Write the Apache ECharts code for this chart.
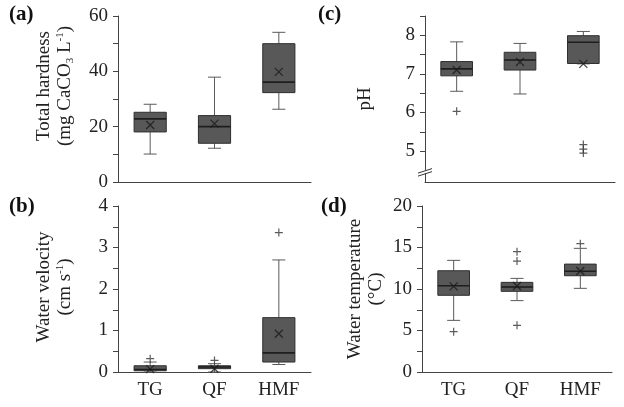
<!DOCTYPE html>
<html><head><meta charset="utf-8">
<script src="https://cdn.jsdelivr.net/npm/echarts@6/dist/echarts.min.js"></script>
<style>html,body{margin:0;padding:0;background:#fff}#c{width:624px;height:407px}</style>
</head><body><div id="c"></div>
<script>
const categories = ['TG', 'QF', 'HMF'];

// [min, Q1, median, Q3, max]
const hardnessBox = [[10.1, 18.1, 22.8, 25.2, 28.1], [12.2, 14.0, 20.0, 24.0, 37.9], [26.3, 32.3, 36.1, 50.0, 54.1]];
const hardnessMean = [20.6, 21.1, 39.8];
const hardnessOutliers = [];
const hardnessTicks = [0, 10, 20, 30, 40, 50, 60];
const hardnessLabels = [0, 20, 40, 60];

const velocityBox = [[0.0, 0.03, 0.06, 0.15, 0.24], [0.0, 0.08, 0.12, 0.15, 0.2], [0.18, 0.24, 0.46, 1.31, 2.7]];
const velocityMean = [0.07, 0.08, 0.92];
const velocityOutliers = [[0, 0.32], [1, 0.28], [2, 3.36]];
const velocityTicks = [0, 0.5, 1, 1.5, 2, 2.5, 3, 3.5, 4];
const velocityLabels = [0, 1, 2, 3, 4];

const phBox = [[6.55, 6.95, 7.13, 7.32, 7.83], [6.48, 7.1, 7.36, 7.56, 7.79], [7.26, 7.27, 7.82, 7.99, 8.1]];
const phMean = [7.1, 7.31, 7.26];
const phOutliers = [[0, 6.03], [2, 5.17], [2, 5.05], [2, 4.95]];
const phTicks = [5, 5.5, 6, 6.5, 7, 7.5, 8, 8.5];
const phLabels = [5, 6, 7, 8];

const tempBox = [[6.22, 9.24, 10.4, 12.2, 13.45], [8.6, 9.72, 10.24, 10.8, 11.28], [10.08, 11.6, 12.13, 13.0, 14.9]];
const tempMean = [10.32, 10.36, 12.17];
const tempOutliers = [[0, 4.86], [1, 14.5], [1, 13.37], [1, 5.62], [2, 15.46]];
const tempTicks = [0, 2.5, 5, 7.5, 10, 12.5, 15, 17.5, 20];
const tempLabels = [0, 5, 10, 15, 20];

const FONT = '"Liberation Serif", "Times New Roman", serif';
const BOX_FILL = '#585858', BOX_EDGE = '#2f2f2f', WHISK = '#5a5a5a';

const panels = [
  {grid: {left: 118, top: 16, width: 193, height: 166}, min: 0, max: 60, ticks: hardnessTicks, labels: hardnessLabels,
   box: hardnessBox, mean: hardnessMean, out: hardnessOutliers, xlab: false,
   name: '{t|Total hardness}\n{t|(mg CaCO}{sub|3}{t| L}{sup|-1}{t|)}', gap: 42, pad: [0, 0, 0, 26]},
  {grid: {left: 118, top: 206, width: 193, height: 166}, min: 0, max: 4, ticks: velocityTicks, labels: velocityLabels,
   box: velocityBox, mean: velocityMean, out: velocityOutliers, xlab: true,
   name: '{t|Water velocity}\n{t|(cm s}{sup|-1}{t|)}', gap: 42, pad: [0, 0, 0, 4]},
  {grid: {left: 425, top: 16, width: 190, height: 166}, min: 4.2, max: 8.5, ticks: phTicks, labels: phLabels,
   box: phBox, mean: phMean, out: phOutliers, xlab: false,
   name: '{t|pH}', gap: 49, pad: [0, 0, 0, 0]},
  {grid: {left: 422, top: 206, width: 190, height: 166}, min: 0, max: 20, ticks: tempTicks, labels: tempLabels,
   box: tempBox, mean: tempMean, out: tempOutliers, xlab: true,
   name: '{t|Water temperature}\n{t|(°C)}', gap: 35, pad: [0, 0, 0, 0]}
];

const grids = [], xAxes = [], yAxes = [], series = [];
panels.forEach((p, k) => {
  grids.push(p.grid);
  xAxes.push({
    type: 'category', gridIndex: k, data: categories, boundaryGap: true,
    axisLine: {lineStyle: {color: '#444', width: 1}},
    axisTick: {alignWithLabel: true, length: 4, lineStyle: {color: '#444'}},
    axisLabel: {show: p.xlab, fontFamily: FONT, fontSize: 19, color: '#222', margin: 9},
    splitLine: {show: false}
  });
  yAxes.push({
    type: 'value', gridIndex: k, min: p.min, max: p.max,
    axisLine: {show: true, lineStyle: {color: '#444', width: 1}},
    axisTick: {show: true, length: 5, customValues: p.ticks, lineStyle: {color: '#444'}},
    axisLabel: {customValues: p.labels, fontFamily: FONT, fontSize: 19, color: '#222', margin: 10},
    splitLine: {show: false},
    name: p.name, nameLocation: 'middle', nameRotate: 90, nameGap: p.gap,
    nameTextStyle: {
      fontFamily: FONT, fontSize: 19, color: '#222', lineHeight: 21, padding: p.pad,
      rich: {
        t: {fontFamily: FONT, fontSize: 19, color: '#222', lineHeight: 21},
        sub: {fontFamily: FONT, fontSize: 11, color: '#222', verticalAlign: 'bottom', lineHeight: 21},
        sup: {fontFamily: FONT, fontSize: 11, color: '#222', verticalAlign: 'top', lineHeight: 21}
      }
    }
  });
  series.push({
    type: 'custom', xAxisIndex: k, yAxisIndex: k,
    data: p.box.map((b, i) => [i].concat(b)),
    renderItem: function (params, api) {
      const i = api.value(0);
      const v = [1, 2, 3, 4, 5].map(j => api.value(j));
      const band = api.size([1, 0])[0];
      const hw = band * 0.25, cw = 6.5;
      const pt = v.map(val => api.coord([i, val]));
      const x = pt[0][0];
      const lw = {stroke: WHISK, lineWidth: 1};
      return {type: 'group', children: [
        {type: 'line', shape: {x1: x, y1: pt[0][1], x2: x, y2: pt[1][1]}, style: lw},
        {type: 'line', shape: {x1: x, y1: pt[3][1], x2: x, y2: pt[4][1]}, style: lw},
        {type: 'line', shape: {x1: x - cw, y1: pt[0][1], x2: x + cw, y2: pt[0][1]}, style: lw},
        {type: 'line', shape: {x1: x - cw, y1: pt[4][1], x2: x + cw, y2: pt[4][1]}, style: lw},
        {type: 'rect', shape: {x: x - hw, y: pt[3][1], width: 2 * hw, height: Math.max(pt[1][1] - pt[3][1], 1)},
         style: {fill: BOX_FILL, stroke: BOX_EDGE, lineWidth: 1}},
        {type: 'line', shape: {x1: x - hw, y1: pt[2][1], x2: x + hw, y2: pt[2][1]}, style: {stroke: '#1e1e1e', lineWidth: 1.6}}
      ]};
    },
    z: 2
  });
  series.push({
    type: 'scatter', xAxisIndex: k, yAxisIndex: k,
    data: p.mean.map((m, i) => [i, m]),
    symbol: 'path://M0,0L10,10M10,0L0,10', symbolSize: 8,
    itemStyle: {color: 'none', borderColor: '#1a1a1a', borderWidth: 1.3},
    z: 5
  });
  series.push({
    type: 'scatter', xAxisIndex: k, yAxisIndex: k,
    data: p.out,
    symbol: 'path://M0,5L10,5M5,0L5,10', symbolSize: 8,
    itemStyle: {color: 'none', borderColor: '#333', borderWidth: 1.2},
    z: 5
  });
});

const chart = echarts.init(document.getElementById('c'), null, {renderer: 'canvas'});
chart.setOption({
  animation: false,
  backgroundColor: '#fff',
  grid: grids, xAxis: xAxes, yAxis: yAxes, series: series
});

// panel letters and axis break marks on the pH axis
const by = chart.convertToPixel({yAxisIndex: 2}, 4.43);
const bx = chart.convertToPixel({xAxisIndex: 2}, 0) - (190 / 6);
const LF = 'bold 21px ' + FONT;
chart.setOption({graphic: [
  {type: 'text', left: 9, top: 4, style: {text: '(a)', font: LF, fill: '#111'}},
  {type: 'text', left: 9, top: 196, style: {text: '(b)', font: LF, fill: '#111'}},
  {type: 'text', left: 318, top: 4, style: {text: '(c)', font: LF, fill: '#111'}},
  {type: 'text', left: 321, top: 196, style: {text: '(d)', font: LF, fill: '#111'}},
  {type: 'polygon', shape: {points: [[bx - 6, by + 2.5], [bx + 6, by - 1.5], [bx + 6, by - 4.5], [bx - 6, by - 0.5]]}, style: {fill: '#fff'}, z: 10},
  {type: 'line', shape: {x1: bx - 7, y1: by + 3, x2: bx + 7, y2: by - 1.5}, style: {stroke: '#333', lineWidth: 1}, z: 11},
  {type: 'line', shape: {x1: bx - 7, y1: by, x2: bx + 7, y2: by - 4.5}, style: {stroke: '#333', lineWidth: 1}, z: 11}
]});
</script>
</body></html>
